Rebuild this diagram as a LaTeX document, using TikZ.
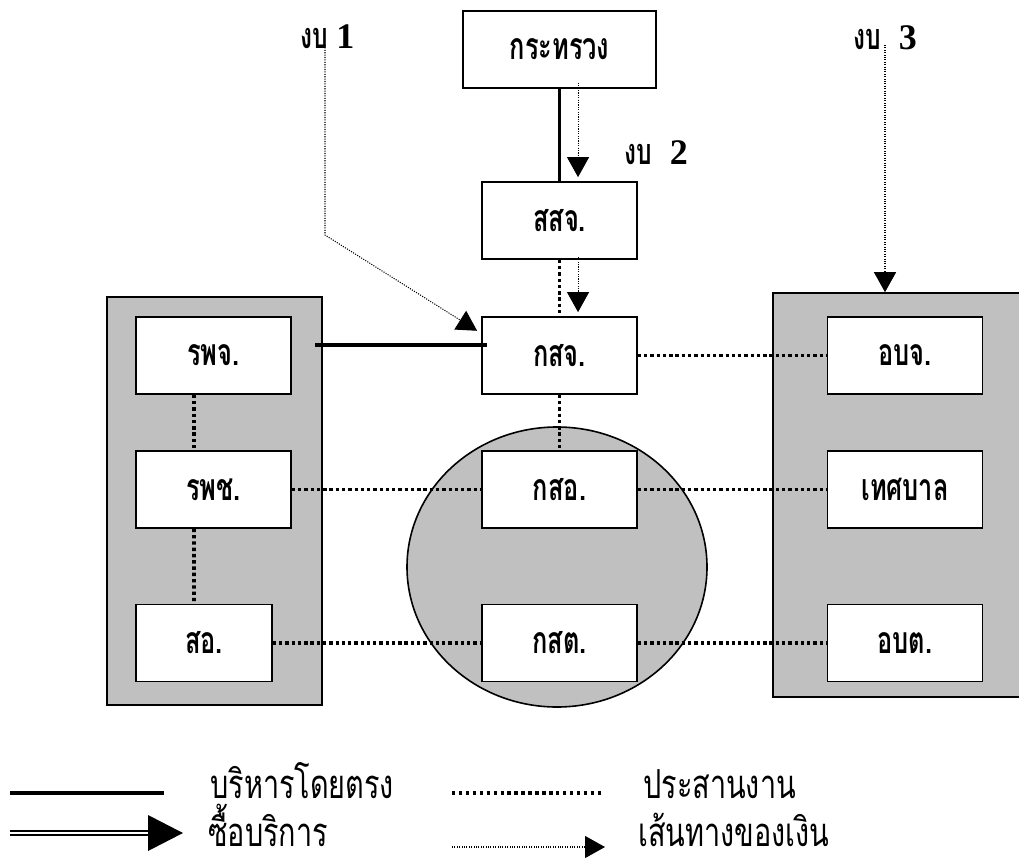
\documentclass[tikz,border=0pt]{standalone}
\usepackage{fontspec}
\newfontfamily\thai[Script=Thai,FakeStretch=0.68]{Loma}
\newfontfamily\thaileg[Script=Thai,FakeStretch=0.72]{Loma}
\newfontfamily\serifdig{Liberation Serif}
\usetikzlibrary{arrows.meta,shapes.geometric,calc}
\definecolor{panelgray}{RGB}{192,192,192}
\begin{document}
\begin{tikzpicture}[x=0.75pt,y=-0.75pt,
  box/.style={draw,line width=1.3pt,fill=white,inner sep=0pt,
    minimum width=116.25pt,minimum height=57.75pt,
    font=\thai\bfseries\fontsize{28}{32}\selectfont},
  panel/.style={draw,line width=1.2pt,fill=panelgray,inner sep=0pt},
  lbl/.style={inner sep=0pt,font=\thai\bfseries\fontsize{27}{30}\selectfont},
  legtext/.style={inner sep=0pt,anchor=base west,font=\thaileg\fontsize{30}{34}\selectfont},
  direct/.style={line width=2.8pt},
  coord/.style={line width=2.7pt,dash pattern=on 2.5pt off 2.2pt},
  money/.style={line width=0.8pt,dash pattern=on 0.8pt off 1pt,
    -{Triangle[length=15pt,width=16.5pt]}},
]
\useasboundingbox (0,0) rectangle (1019,859);

% group shapes
\node[panel,minimum width=161.25pt,minimum height=306pt] (leftpanel) at (214.5,501) {};
\node[panel,minimum width=196.5pt,minimum height=303pt] (rightpanel) at (904,495) {};
\node[panel,ellipse,minimum width=225pt,minimum height=210pt] (circ) at (557,567) {};

% boxes
\node[box,minimum width=144.75pt] (krasuang) at (559.5,49.5) {กระทรวง};
\node[box] (ssj) at (559.5,220.5) {สสจ.};
\node[box] (ksj) at (559.5,355.5) {กสจ.};
\node[box] (kso) at (559.5,489.5) {กสอ.};
\node[box] (kst) at (559.5,643) {กสต.};
\node[box] (rpj) at (213.5,355.5) {รพจ.};
\node[box] (rpc) at (213.5,489.5) {รพช.};
\node[box,minimum width=102pt] (so) at (204,643) {สอ.};
\node[box] (obj) at (905,355.5) {อบจ.};
\node[box] (tesaban) at (905,489.5) {เทศบาล};
\node[box] (obt) at (905,643) {อบต.};

% budget labels
\node[lbl] (g1) at (327.5,37) {งบ {\serifdig\bfseries 1}};
\node[lbl] (g2) at (656,153) {งบ\enspace{\serifdig\bfseries 2}};
\node[lbl] (g3) at (885,38) {งบ\enspace{\serifdig\bfseries 3}};

% direct management
\draw[direct] (krasuang) -- (ssj);
\coordinate (dl) at (315,345);
\coordinate (dr) at (487,345);
\draw[direct] (dl) -- (dr);

% coordination
\draw[coord] (ssj) -- (ksj);
\draw[coord] (ksj) -- (kso);
\draw[coord] ([xshift=-14.6pt]rpj.south) -- ([xshift=-14.6pt]rpc.north);
\draw[coord] ([xshift=-14.6pt]rpc.south) -- ([xshift=-7.5pt]so.north);
\draw[coord] (rpc) -- (kso);
\draw[coord] (so) -- (kst);
\draw[coord] (ksj) -- (obj);
\draw[coord] (kso) -- (tesaban);
\draw[coord] (kst) -- (obt);

% money
\draw[money] ([xshift=13.9pt,yshift=4.5pt]krasuang.south) -- ([xshift=13.9pt,yshift=3pt]ssj.north);
\draw[money] ([xshift=13.9pt,yshift=2.25pt]ssj.south) -- ([xshift=13.9pt,yshift=3pt]ksj.north);
\coordinate (g1s) at (325,45);
\coordinate (g1b) at (325,235);
\draw[money] (g1s) -- (g1b) -- ([xshift=-3pt,yshift=-11pt]ksj.north west);
\coordinate (g3s) at (885,45);
\draw[money] (g3s) -- (g3s |- rightpanel.north);

% legend
\draw[direct] (10,793) -- (164,793);
\node[legtext] (l1) at (210,798) {บริหารโดยตรง};
\draw[line width=2.6pt,dash pattern=on 2.6pt off 2.6pt] (452,793) -- (602,793);
\node[legtext] (l2) at (643,798) {ประสานงาน};
\draw[line width=1.7pt,double,double distance=1.6pt] (10,833) -- (150,833);
\fill (148,815) -- (183,833) -- (148,851) -- cycle;
\node[legtext] (l3) at (208,846) {ซื้อบริการ};
\draw[money] (452,847) -- (605,847);
\node[legtext] (l4) at (638,846) {เส้นทางของเงิน};
\end{tikzpicture}
\end{document}
